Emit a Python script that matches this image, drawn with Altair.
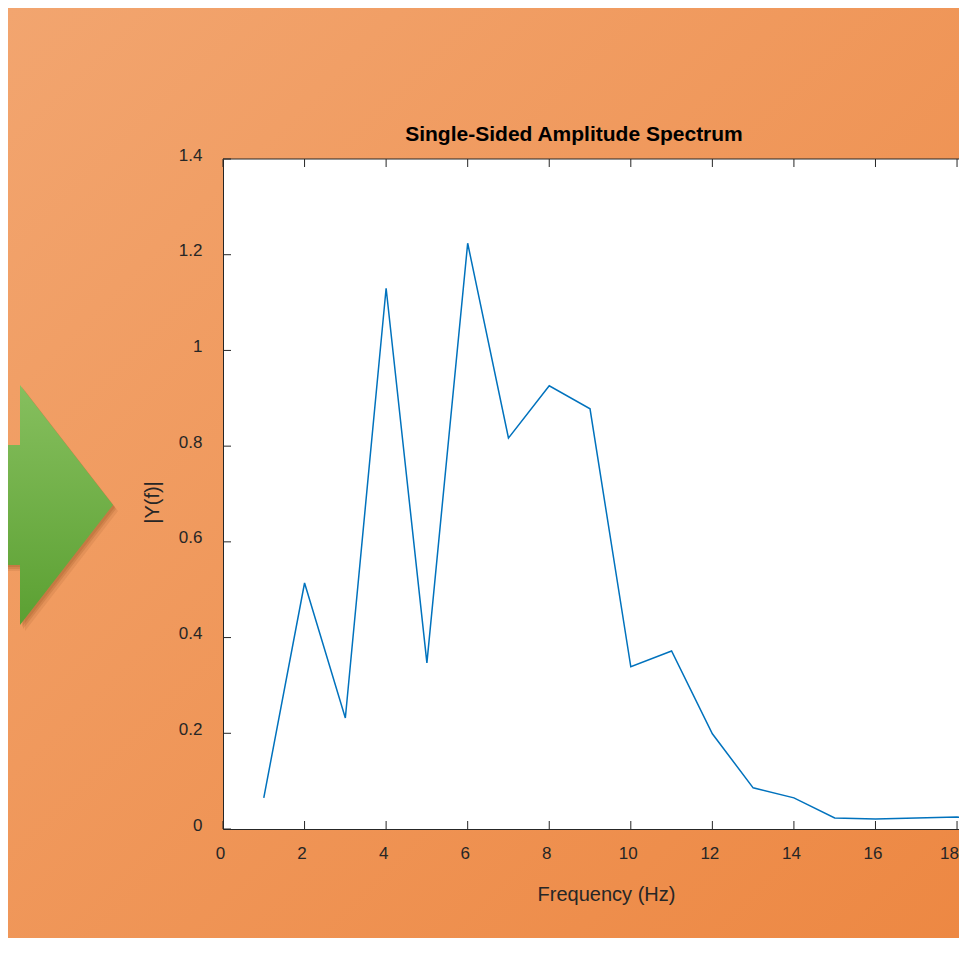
import altair as alt
import pandas as pd

# ---- data ----
freq = list(range(1, 20))
amp = [0.065, 0.514, 0.232, 1.13, 0.347, 1.224, 0.817, 0.926, 0.878, 0.339,
       0.372, 0.199, 0.086, 0.065, 0.023, 0.021, 0.023, 0.025, 0.012]
x_ticks = [0, 2, 4, 6, 8, 10, 12, 14, 16, 18]
y_ticks = [0, 0.2, 0.4, 0.6, 0.8, 1.0, 1.2, 1.4]
title_text = ["Single-Sided Amplitude Spectrum"]
x_label = "Frequency (Hz)"
y_label = "|Y(f)|"

# ---- layout / style ----
W, H = 736, 670
PAD = {"left": 215, "top": 151, "right": 0, "bottom": 109}
X_MAX = W / 40.78
FONT = "Liberation Sans"
INK = "#262626"

line_df = pd.DataFrame({"freq": freq, "amp": amp})
xt_df = pd.DataFrame({"freq": x_ticks})
yt_df = pd.DataFrame({"amp": y_ticks})
one = pd.DataFrame({"title": title_text})

xscale = alt.Scale(domain=[0, X_MAX], nice=False, zero=False)
yscale = alt.Scale(domain=[0, 1.4], nice=False)

xaxis = alt.Axis(values=x_ticks, title=x_label, ticks=False, tickSize=0, grid=False,
                 domain=True, domainColor=INK, domainWidth=1,
                 labelFont=FONT, labelFontSize=17, labelColor=INK, labelPadding=16,
                 labelOffset={"condition": {"test": f"datum.value == {x_ticks[-1]}", "value": -8},
                              "value": -3},
                 labelFlush=False, labelOverlap=False,
                 titleFont=FONT, titleFontSize=20, titleFontWeight="normal", titleColor=INK,
                 titleX=383, titleY=71, titleAlign="center", titleBaseline="alphabetic",
                 zindex=2)
yaxis = alt.Axis(values=y_ticks, format="~g", title=y_label, ticks=False, tickSize=0, grid=False,
                 domain=True, domainColor=INK, domainWidth=1,
                 labelFont=FONT, labelFontSize=17, labelColor=INK, labelPadding=21,
                 labelOffset=-4, labelBaseline="middle", labelFlush=False, labelOverlap=False,
                 titleFont=FONT, titleFontSize=20, titleFontWeight="normal", titleColor=INK,
                 titleAngle=270, titleX=-65, titleY=343, titleAlign="center",
                 titleBaseline="alphabetic", zindex=2)

bg_grad = alt.LinearGradient(gradient="linear",
                             stops=[alt.GradientStop(color="#F2A56F", offset=0),
                                    alt.GradientStop(color="#ED8843", offset=1)],
                             x1=0, y1=0, x2=1, y2=1)
arrow_grad = alt.LinearGradient(gradient="linear",
                                stops=[alt.GradientStop(color="#86BF5E", offset=0),
                                       alt.GradientStop(color="#5BA032", offset=1)],
                                x1=0, y1=0, x2=0, y2=1)
ARROW = "M -140 -60 L -93 -60 L -93 -120 L 0 0 L -93 120 L -93 60 L -140 60 Z"

background = alt.Chart(one).mark_rect(fill=bg_grad, strokeWidth=0).encode(
    x=alt.value(-PAD["left"]), x2=alt.value(W + PAD["right"]),
    y=alt.value(-PAD["top"]), y2=alt.value(H + PAD["bottom"]))

shadows = [
    alt.Chart(one).mark_point(shape=ARROW, size=4, filled=True, fill="#7A3A10",
                              opacity=op, strokeWidth=0).encode(
        x=alt.value(-110 + dx), y=alt.value(346 + dy))
    for dx, dy, op in [(5, 6, 0.10), (3, 4, 0.15), (2, 2, 0.15)]
]
arrow = alt.Chart(one).mark_point(shape=ARROW, size=4, filled=True, fill=arrow_grad,
                                  opacity=1, strokeWidth=0).encode(
    x=alt.value(-110), y=alt.value(346))

plot_bg = alt.Chart(one).mark_rect(fill="white", strokeWidth=0).encode(
    x=alt.value(0), x2=alt.value(W), y=alt.value(0), y2=alt.value(H))

line = alt.Chart(line_df).mark_line(color="#0072BD", strokeWidth=1.5, clip=True).encode(
    x=alt.X("freq:Q", scale=xscale, axis=xaxis),
    y=alt.Y("amp:Q", scale=yscale, axis=yaxis))

xticks_bottom = alt.Chart(xt_df).mark_rule(color=INK, strokeWidth=1).encode(
    x=alt.X("freq:Q", scale=xscale, axis=xaxis), y=alt.value(H), y2=alt.value(H - 8))
xticks_top = alt.Chart(xt_df).mark_rule(color=INK, strokeWidth=1).encode(
    x=alt.X("freq:Q", scale=xscale, axis=xaxis), y=alt.value(0), y2=alt.value(8))
yticks_left = alt.Chart(yt_df).mark_rule(color=INK, strokeWidth=1).encode(
    y=alt.Y("amp:Q", scale=yscale, axis=yaxis), x=alt.value(0), x2=alt.value(8))
top_frame = alt.Chart(one).mark_rule(color=INK, strokeWidth=1).encode(
    x=alt.value(0), x2=alt.value(W), y=alt.value(0))

title = alt.Chart(one).mark_text(font=FONT, fontSize=21, fontWeight="bold", color="black",
                                 align="center", baseline="alphabetic").encode(
    text="title:N", x=alt.value(351), y=alt.value(-18))

chart = alt.layer(
    background, *shadows, arrow, plot_bg, line,
    xticks_bottom, xticks_top, yticks_left, top_frame, title
).properties(
    width=W, height=H, padding=PAD, autosize=alt.AutoSizeParams(type="none"),
    background="#F0985B"
).configure_view(strokeWidth=0)

chart.save("out.html", embed_options={"renderer": "svg", "actions": False})
